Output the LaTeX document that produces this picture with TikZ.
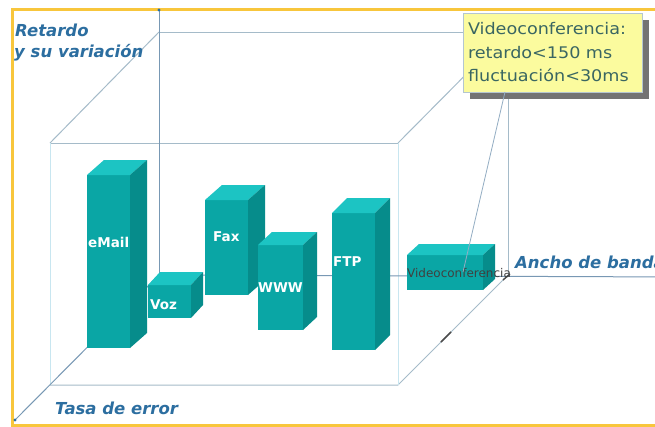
\documentclass[tikz,border=0pt]{standalone}
\usepackage{fontspec}
\setmainfont{DejaVu Sans}
\newfontfamily\widesans{DejaVu Sans}[FakeStretch=1.1]
\usetikzlibrary{shadows,calc}

\definecolor{framegold}{RGB}{248,198,60}
\definecolor{edgegray}{RGB}{165,187,201}
\definecolor{edgelight}{RGB}{200,230,240}
\definecolor{axisblue}{RGB}{120,152,180}
\definecolor{axistext}{RGB}{44,110,160}
\definecolor{barfront}{RGB}{10,166,165}
\definecolor{bartop}{RGB}{28,196,195}
\definecolor{barside}{RGB}{6,140,139}
\definecolor{notefill}{RGB}{251,251,158}
\definecolor{noteedge}{RGB}{180,198,208}
\definecolor{notetext}{RGB}{58,102,98}

\tikzset{
  frameline/.style={draw=framegold, line width=3pt},
  cubeedge/.style={draw=edgegray, line width=1pt},
  frontedge/.style={draw=edgelight, line width=1pt},
  axisline/.style={draw=axisblue, line width=1pt},
  axislabel/.style={text=axistext, font=\bfseries\itshape\fontsize{16.5}{19}\selectfont, inner sep=0pt},
  barlabel/.style={text=white, font=\bfseries\fontsize{13.5}{15}\selectfont, inner sep=0pt},
  notebox/.style={draw=noteedge, fill=notefill, line width=0.8pt,
    minimum width=179pt, minimum height=79pt, text width=169pt, align=left,
    inner sep=0pt, text=notetext, font=\widesans\fontsize{16}{23.5}\selectfont,
    drop shadow={shadow xshift=7pt, shadow yshift=-7pt, fill=black!55, opacity=1}},
  pointer/.style={draw=axisblue!80, line width=0.8pt},
}

% 3D bar: front x0,x1, top y, bottom y, depth dx,dy
\newcommand{\drawbar}[6]{%
  \fill[barfront] (#1,#3) rectangle (#2,#4);
  \fill[bartop] (#1,#3) -- (#2,#3) -- ++(#5,#6) -- ($(#1,#3)+(#5,#6)$) -- cycle;
  \fill[barside] (#2,#3) -- ++(#5,#6) -- ($(#2,#4)+(#5,#6)$) -- (#2,#4) -- cycle;
}

\begin{document}
\begin{tikzpicture}[x=1pt,y=-1pt]
\useasboundingbox (0,0) rectangle (655,426);
\clip (0,0) rectangle (655,426);
\fill[white] (0,0) rectangle (655,426);

% outer frame
\draw[frameline] (12,9) rectangle (680,425);

% key points of the box
\coordinate (o)   at (159,275);
\coordinate (btl) at (159,32);
\coordinate (btr) at (508,32);
\coordinate (bbr) at (508,275);
\coordinate (ftl) at (50,143);
\coordinate (ftr) at (398,143);
\coordinate (fbl) at (50,385);
\coordinate (fbr) at (398,385);
\coordinate (ytip) at (159,10);
\coordinate (ztip) at (15,420);
\coordinate (xend) at (680,277);

% back edges of the box
\draw[cubeedge] (btl) -- (btr) -- (bbr);
\draw[cubeedge] (ftl) -- (btl);
\draw[cubeedge] (ftr) -- (btr);
\draw[cubeedge] (ftl) -- (ftr);
\draw[cubeedge] (fbl) -- (fbr) -- (bbr);
\draw[frontedge] (ftl) -- (fbl);
\draw[frontedge] (ftr) -- (fbr);

% axes
\draw[axisline] (o) -- (ytip);
\draw[axisline] (o) -- (xend);
\draw[axisline] (o) -- (ztip);
\fill[axistext] (ytip) circle (1.6pt);
\fill[axistext] (ztip) circle (1.6pt);
\draw[black!70, line width=1.6pt] (441,342) -- (451,332);
\draw[black!70, line width=1.4pt] (503,280) -- (510,274);

% bars
\drawbar{87}{130}{175}{348}{17}{-15}
\drawbar{148}{191}{285}{318}{12}{-13}
\drawbar{205}{248}{200}{295}{17}{-15}
\drawbar{258}{303}{245}{330}{14}{-13}
\drawbar{332}{375}{213}{350}{15}{-15}
\drawbar{407}{483}{255}{290}{12}{-11}

% bar labels
\node[barlabel, anchor=west] (lmail) at (88,242) {eMail};
\node[barlabel, anchor=west] (lvoz)  at (150,305) {Voz};
\node[barlabel, anchor=west] (lfax)  at (213,237) {Fax};
\node[barlabel, anchor=west] (lwww)  at (258,288) {WWW};
\node[barlabel, anchor=west] (lftp)  at (333,262) {FTP};
\node[inner sep=0pt, text=black!75, font=\fontsize{12}{14}\selectfont] (lvideo) at (459,273) {Videoconferencia};

% axis labels
\node[axislabel, anchor=west] (ylab1) at (15,30) {Retardo};
\node[axislabel, anchor=west] (ylab2) at (14,53) {y su variación};
\node[axislabel, anchor=west] (zlab) at (55,408) {Tasa de error};
\node[axislabel, anchor=west] (xlab) at (515,262) {Ancho de banda};

% note with pointer to the videoconference bar
\coordinate (ptip) at (463,272);
\node[notebox] (note) at (552.5,52.5) {Videoconferencia:\\retardo<150 ms\\fluctuación<30ms};
\draw[pointer] (505,92) -- (ptip);
\end{tikzpicture}
\end{document}
